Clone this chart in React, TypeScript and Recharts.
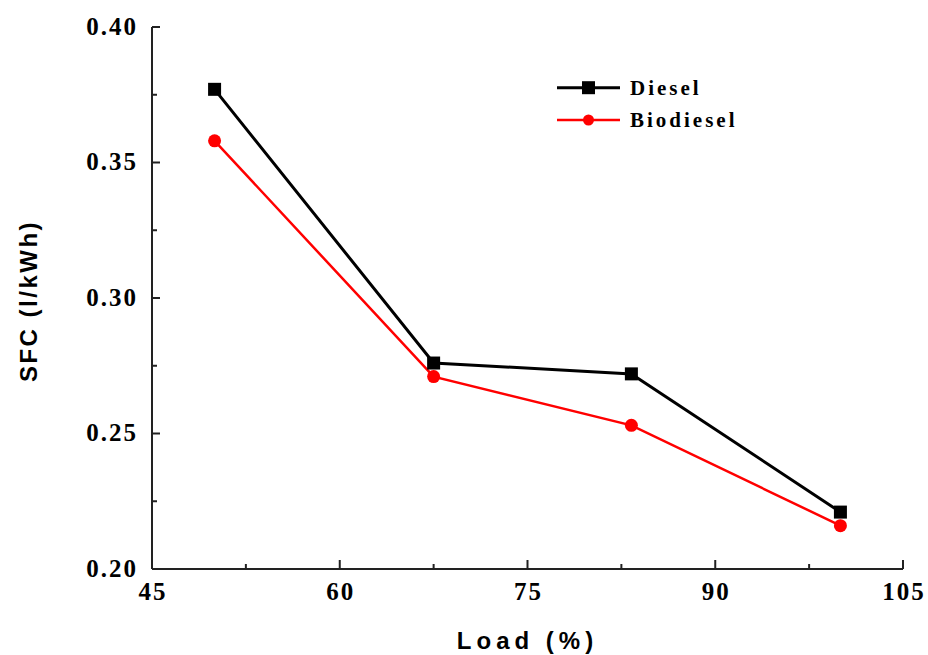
import React from "react";
import { LineChart, Line, XAxis, YAxis } from "recharts";

const loads = [50, 67.5, 83.3, 100];
const diesel = [0.377, 0.276, 0.272, 0.221];
const biodiesel = [0.358, 0.271, 0.253, 0.216];
const xTicks = [45, 52.5, 60, 67.5, 75, 82.5, 90, 97.5, 105];
const yTicks = [0.2, 0.225, 0.25, 0.275, 0.3, 0.325, 0.35, 0.375, 0.4];
const seriesNames = ["Diesel", "Biodiesel"];

const data = loads.map((l, i) => ({ load: l, diesel: diesel[i], biodiesel: biodiesel[i] }));

const serif = "'Liberation Serif', 'Times New Roman', serif";
const sans = "'Liberation Sans', Arial, sans-serif";
const AXIS = "#222";

const XTick = (props: any) => {
  const { x, y, payload } = props;
  const v = payload.value;
  const major = Math.abs(v / 15 - Math.round(v / 15)) < 1e-6;
  return (
    <g>
      <line x1={x} x2={x} y1={y} y2={y - (major ? 9 : 5)} stroke={AXIS} strokeWidth={2} />
      {major && (
        <text x={x + 1} y={y + 22} textAnchor="middle" dominantBaseline="central" fontFamily={serif} fontWeight="bold" fontSize={25} letterSpacing={2} fill="#000">
          {v}
        </text>
      )}
    </g>
  );
};

const YTick = (props: any) => {
  const { x, y, payload } = props;
  const v = payload.value;
  const major = Math.abs(v * 20 - Math.round(v * 20)) < 1e-6;
  return (
    <g>
      <line x1={x} x2={x + (major ? 8 : 5)} y1={y} y2={y} stroke={AXIS} strokeWidth={2} />
      {major && (
        <text x={x - 14} y={y - 1} textAnchor="end" dominantBaseline="central" fontFamily={serif} fontWeight="bold" fontSize={25} letterSpacing={2} fill="#000">
          {v.toFixed(2)}
        </text>
      )}
    </g>
  );
};

const SquareDot = (props: any) => {
  const { cx, cy, index } = props;
  return <rect key={`sq-${index}`} x={cx - 6.5} y={cy - 6.5} width={13} height={13} fill="#000" />;
};

const CircleDot = (props: any) => {
  const { cx, cy, index } = props;
  return <circle key={`ci-${index}`} cx={cx} cy={cy} r={6.5} fill="#ff0000" />;
};

const LegendBox = () => (
  <svg width={240} height={70} style={{ position: "absolute", left: 550, top: 70 }}>
    <line x1={7} x2={70} y1={17.7} y2={17.7} stroke="#000" strokeWidth={3} />
    <rect x={32} y={11.2} width={13} height={13} fill="#000" />
    <text x={80} y={17.7} dominantBaseline="central" fontFamily={serif} fontWeight="bold" fontSize={21} letterSpacing={3} fill="#000">
      {seriesNames[0]}
    </text>
    <line x1={7} x2={70} y1={50} y2={50} stroke="#ff0000" strokeWidth={2.5} />
    <circle cx={38.5} cy={50} r={5.5} fill="#ff0000" />
    <text x={80} y={50} dominantBaseline="central" fontFamily={serif} fontWeight="bold" fontSize={21} letterSpacing={3} fill="#000">
      {seriesNames[1]}
    </text>
  </svg>
);

export default function App() {
  return (
    <div style={{ position: "absolute", left: 0, top: 0, width: 928, height: 655, background: "#fff" }}>
      <LineChart width={928} height={655} data={data} margin={{ top: 27, right: 25, left: 0, bottom: 0 }}>
        <XAxis
          xAxisId="main"
          dataKey="load"
          type="number"
          domain={[45, 105]}
          ticks={xTicks}
          interval={0}
          height={86}
          tickSize={0}
          tickMargin={0}
          tickLine={false}
          axisLine={{ stroke: AXIS, strokeWidth: 2 }}
          tick={<XTick />}
          label={(p: any) => {
            const vb = p.viewBox;
            return (
              <text x={vb.x + vb.width / 2} y={vb.y + 71} textAnchor="middle" dominantBaseline="central" fontFamily={sans} fontWeight="bold" fontSize={24} letterSpacing={5} fill="#000">
                Load (%)
              </text>
            );
          }}
        />
        <XAxis xAxisId="top" orientation="top" type="number" domain={[45, 105]} height={0} tick={false} tickLine={false} axisLine={{ stroke: AXIS, strokeWidth: 2 }} />
        <YAxis
          yAxisId="main"
          type="number"
          domain={[0.2, 0.4]}
          ticks={yTicks}
          interval={0}
          width={152}
          tickSize={0}
          tickMargin={0}
          tickLine={false}
          axisLine={{ stroke: AXIS, strokeWidth: 2 }}
          tick={<YTick />}
          label={(p: any) => {
            const vb = p.viewBox;
            const cx = 28;
            const cy = vb.y + vb.height / 2 + 3;
            return (
              <text x={cx} y={cy} transform={`rotate(-90 ${cx} ${cy})`} textAnchor="middle" dominantBaseline="central" fontFamily={sans} fontWeight="bold" fontSize={24} letterSpacing={2.5} fill="#000">
                SFC (l/kWh)
              </text>
            );
          }}
        />
        <YAxis yAxisId="right" orientation="right" type="number" domain={[0.2, 0.4]} width={0} tick={false} tickLine={false} axisLine={{ stroke: AXIS, strokeWidth: 2 }} />
        <Line
          xAxisId="main"
          yAxisId="main"
          dataKey="diesel"
          name={seriesNames[0]}
          stroke="#000"
          strokeWidth={3}
          dot={<SquareDot />}
          isAnimationActive={false}
        />
        <Line
          xAxisId="main"
          yAxisId="main"
          dataKey="biodiesel"
          name={seriesNames[1]}
          stroke="#ff0000"
          strokeWidth={2.5}
          dot={<CircleDot />}
          isAnimationActive={false}
        />
      </LineChart>
      <LegendBox />
    </div>
  );
}
